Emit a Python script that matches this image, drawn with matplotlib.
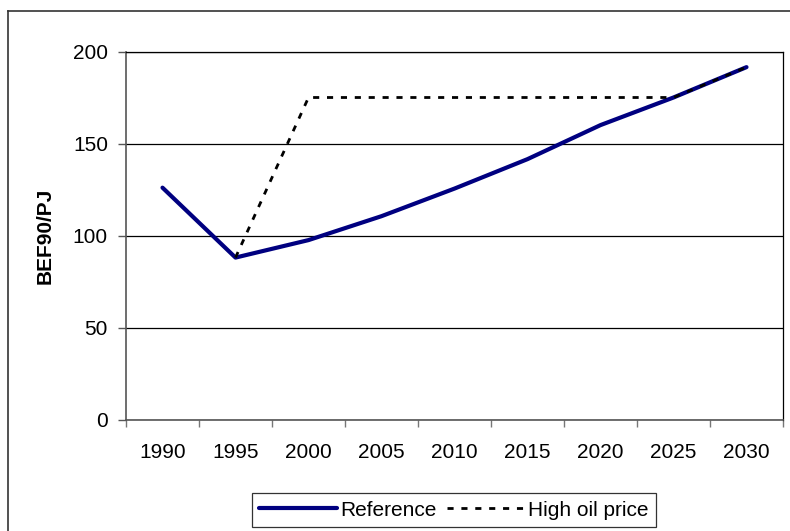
import matplotlib.pyplot as plt
import numpy as np

plt.rcParams["font.family"] = ["Liberation Sans", "DejaVu Sans"]

years = ["1990", "1995", "2000", "2005", "2010", "2015", "2020", "2025", "2030"]
reference = [126, 88, 97.5, 110.5, 125.5, 141.5, 160, 175, 191.5]
high_oil = [None, 88, 175, 175, 175, 175, 175, 175, 191.5]

fig = plt.figure(figsize=(7.9, 5.31), dpi=100)
ax = fig.add_axes([126 / 790, 1 - 419.5 / 531, (783 - 126) / 790, (419.5 - 51.5) / 531])

x = np.arange(len(years)) + 0.5
hx = [xi for xi, v in zip(x, high_oil) if v is not None]
hy = [v for v in high_oil if v is not None]

ax.plot(x, reference, color="#000080", lw=3, solid_capstyle="round",
        label="Reference", zorder=3)
ax.plot(hx, hy, color="black", lw=2, linestyle=(0, (2.2, 2.8)),
        label="High oil price", zorder=4)

ax.set_xlim(0, len(years))
ax.set_ylim(0, 200)
ax.set_yticks([0, 50, 100, 150, 200])
ax.set_xticks(np.arange(len(years) + 1))
ax.set_xticklabels([])
ax.set_xticks(x, minor=True)
ax.set_xticklabels(years, minor=True)
ax.tick_params(axis="x", which="minor", length=0, pad=17, labelsize=15)
ax.tick_params(axis="x", which="major", length=5, width=1, color="#777777")
ax.tick_params(axis="y", length=6, width=1, color="#555555", labelsize=15, pad=7)

ax.grid(axis="y", color="black", lw=0.9)
ax.set_axisbelow(True)
for s in ["left", "bottom"]:
    ax.spines[s].set_color("#555555")
    ax.spines[s].set_linewidth(1.2)
ax.spines["right"].set_color("black")
ax.spines["top"].set_color("black")
ax.spines["right"].set_linewidth(0.9)
ax.spines["top"].set_linewidth(0.9)

ax.set_ylabel("BEF90/PJ", fontsize=15, fontweight="bold", labelpad=13)

leg = fig.legend(loc="center", bbox_to_anchor=(454 / 790, 1 - 510 / 531),
                 ncol=2, fontsize=15, frameon=True, fancybox=False,
                 edgecolor="black", handlelength=3.75, handletextpad=0.15,
                 columnspacing=0.5, borderpad=0.35, borderaxespad=0)
leg.get_frame().set_linewidth(0.9)

# outer chart frame
fig.add_artist(plt.Line2D([8 / 790, 8 / 790], [0, 1 - 11 / 531],
                          transform=fig.transFigure, color="#333333", lw=1.2))
fig.add_artist(plt.Line2D([8 / 790, 1], [1 - 11 / 531, 1 - 11 / 531],
                          transform=fig.transFigure, color="#333333", lw=1.2))

fig.savefig("out.png", dpi=100)
